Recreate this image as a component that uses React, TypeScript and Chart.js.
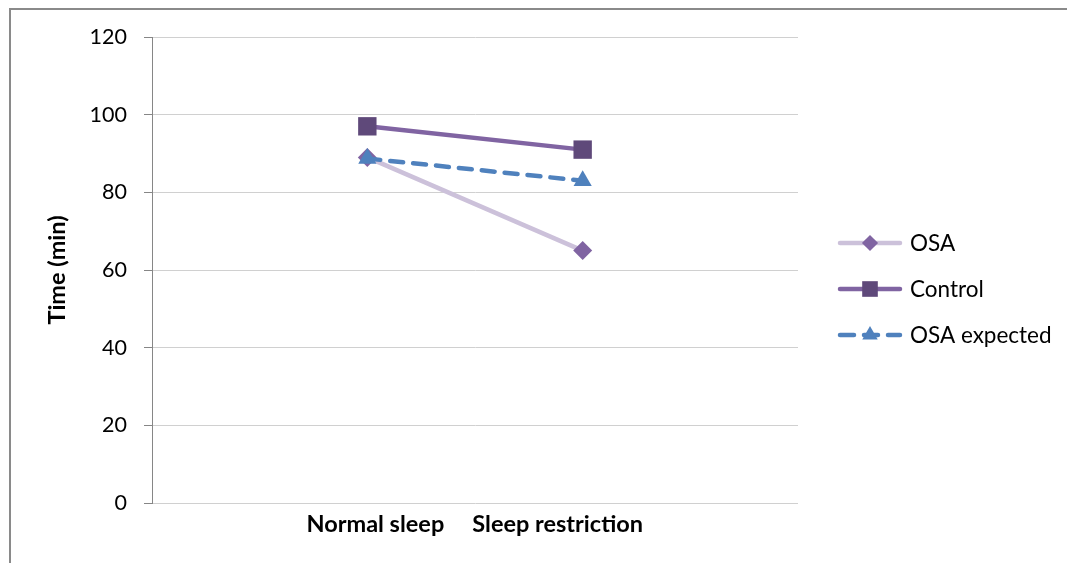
import React, { useEffect, useRef } from 'react';
import { Chart, registerables } from 'chart.js';
import { drawPoint } from 'chart.js/helpers';

Chart.register(...registerables);

const categories = ['', 'Normal sleep', 'Sleep restriction', ''];
const osa = [null, 89, 65, null];
const control = [null, 97, 91, null];
const osaExpected = [null, 88.7, 83, null];
const seriesNames = ['OSA', 'Control', 'OSA expected'];
const yTitle = 'Time (min)';
const yMin = 0;
const yMax = 120;
const yStep = 20;

const FONT = 'Lato, "Open Sans", sans-serif';
const labelShift = [0, 8, -25, 0];

const styles = [
  { line: '#CCC1DA', point: '#8064A2', shape: 'rectRot', r: 9.5, dash: [] as number[] },
  { line: '#8064A2', point: '#5F497A', shape: 'rect', r: 13, dash: [] as number[] },
  { line: '#4F81BD', point: '#4F81BD', shape: 'triangle', r: 10.5, dash: [13, 10] },
];

const overlay = {
  id: 'overlay',
  beforeDraw(chart: any) {
    const ctx = chart.ctx;
    ctx.save();
    ctx.fillStyle = '#fff';
    ctx.fillRect(0, 0, chart.width, chart.height);
    ctx.strokeStyle = '#8a8a8a';
    ctx.lineWidth = 2;
    ctx.beginPath();
    ctx.moveTo(10, chart.height + 5);
    ctx.lineTo(10, 9);
    ctx.lineTo(chart.width + 5, 9);
    ctx.stroke();
    ctx.restore();
  },
  afterDraw(chart: any) {
    const ctx = chart.ctx;
    const xs = chart.scales.x;
    ctx.save();
    ctx.fillStyle = '#000';
    ctx.font = `bold 23.5px ${FONT}`;
    ctx.textAlign = 'center';
    ctx.textBaseline = 'middle';
    categories.forEach((c, i) => {
      if (!c) return;
      ctx.fillText(c, xs.getPixelForValue(i) + labelShift[i], 524);
    });
    ctx.save();
    ctx.translate(57, 270);
    ctx.rotate(-Math.PI / 2);
    ctx.fillText(yTitle, 0, 0);
    ctx.restore();
    ctx.font = `22.5px ${FONT}`;
    ctx.textAlign = 'left';
    seriesNames.forEach((name, i) => {
      const s = styles[i];
      const y = 243 + i * 46;
      ctx.save();
      ctx.strokeStyle = s.line;
      ctx.lineWidth = 4.5;
      ctx.lineCap = 'round';
      ctx.setLineDash(s.dash.length ? [14, 10] : []);
      ctx.beginPath();
      ctx.moveTo(840, y);
      ctx.lineTo(900, y);
      ctx.stroke();
      ctx.restore();
      ctx.fillStyle = s.point;
      ctx.strokeStyle = s.point;
      drawPoint(ctx, { pointStyle: s.shape, radius: s.r * 0.85, rotation: 0, borderWidth: 0 } as any, 870, y);
      ctx.fillStyle = '#000';
      ctx.fillText(name, 910, y + 1);
    });
    ctx.restore();
  },
};

export default function App() {
  const ref = useRef<HTMLCanvasElement | null>(null);
  useEffect(() => {
    if (!ref.current) return;
    const series = [osa, control, osaExpected];
    const orders = [3, 2, 1];
    const chart = new Chart(ref.current, {
      type: 'line',
      data: {
        labels: categories,
        datasets: series.map((d, i) => ({
          label: seriesNames[i],
          data: d,
          borderColor: styles[i].line,
          borderWidth: 4.5,
          borderDash: styles[i].dash,
          borderCapStyle: 'round',
          pointStyle: styles[i].shape,
          pointRadius: styles[i].r,
          pointBackgroundColor: styles[i].point,
          pointBorderColor: styles[i].point,
          pointBorderWidth: 0,
          tension: 0,
          order: orders[i],
        })) as any,
      },
      options: {
        animation: false,
        responsive: false,
        maintainAspectRatio: false,
        layout: { padding: { top: 37, right: 269, left: 0, bottom: 0 } },
        plugins: { legend: { display: false }, tooltip: { enabled: false } },
        scales: {
          x: {
            type: 'category',
            offset: false,
            grid: { display: false },
            border: { display: false },
            ticks: { display: false },
            afterFit: (s: any) => { s.height = 60; },
          },
          y: {
            min: yMin,
            max: yMax,
            ticks: {
              stepSize: yStep,
              color: '#000',
              font: { family: FONT, size: 21.5 },
              padding: 17,
            },
            grid: { color: '#d0d0d0', tickColor: '#868686', tickLength: 8, lineWidth: 1 },
            border: { color: '#868686', width: 1 },
            afterFit: (s: any) => { s.width = 152; },
          },
        },
      },
      plugins: [overlay],
    });
    return () => chart.destroy();
  }, []);
  return (
    <div style={{ position: 'fixed', left: 0, top: 0, width: 1067, height: 563, background: '#fff' }}>
      <canvas ref={ref} width={1067} height={563} style={{ width: 1067, height: 563 }} />
    </div>
  );
}
